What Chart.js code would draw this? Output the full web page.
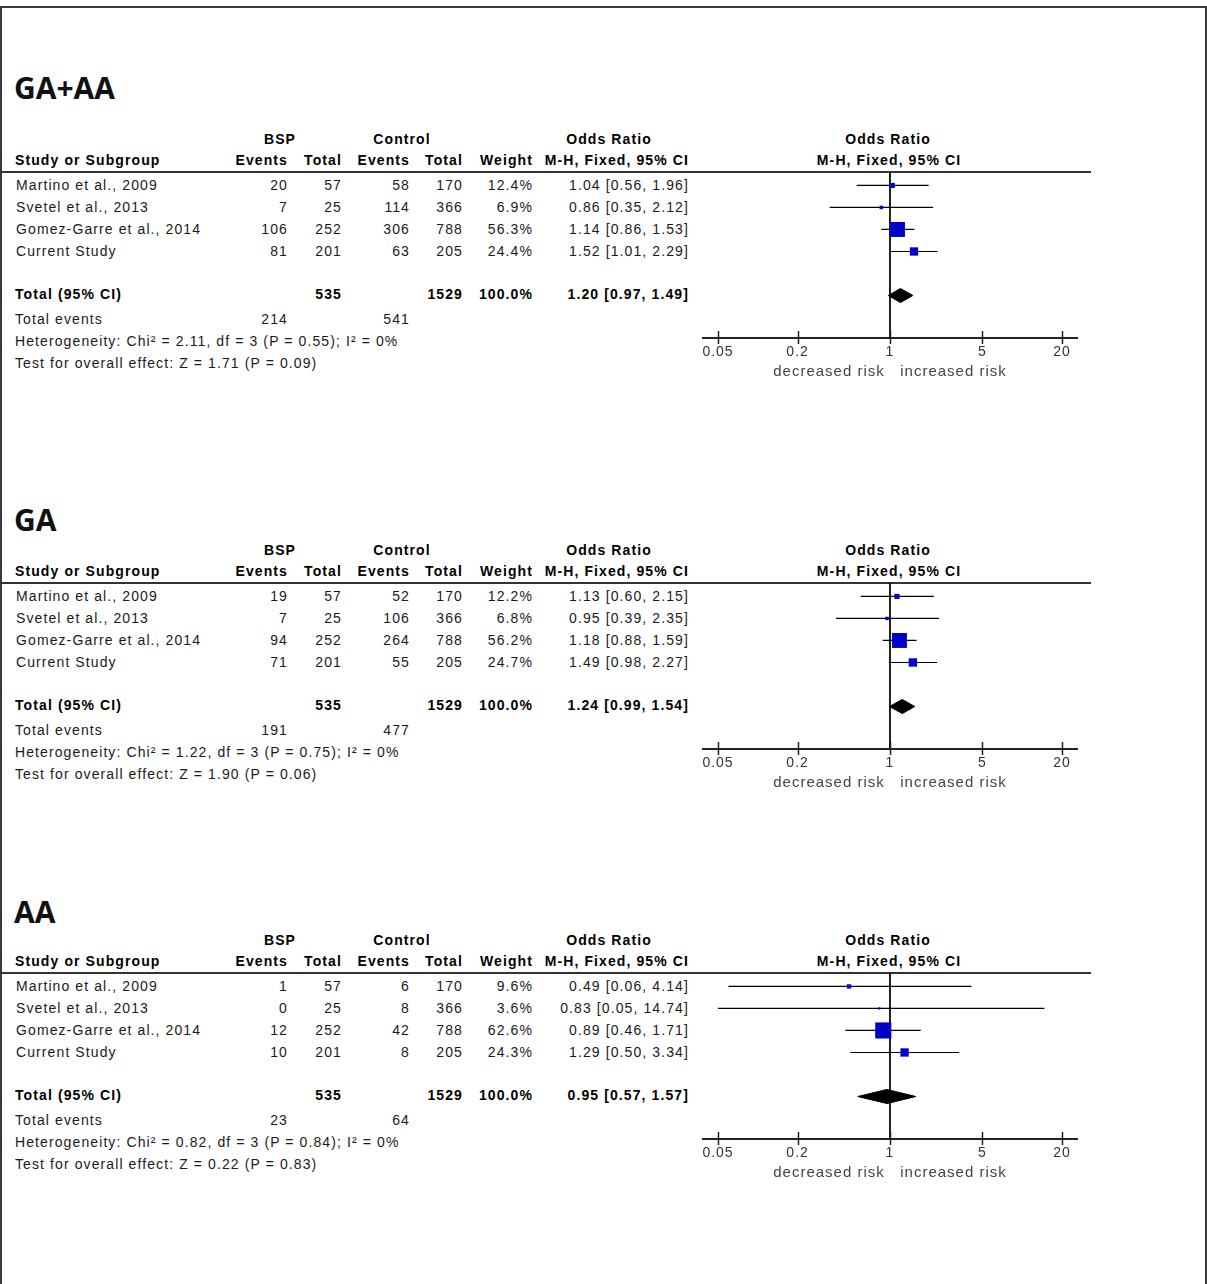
<!DOCTYPE html>
<html>
<head>
<meta charset="utf-8">
<script src="https://cdn.jsdelivr.net/npm/chart.js@4.4.1/dist/chart.umd.min.js"></script>
<style>
  body { margin: 0; background: #fff; }
  #page {
    position: relative; width: 1207px; height: 1284px; overflow: hidden;
    font-family: 'Liberation Sans', Arial, sans-serif; font-size: 14px;
    letter-spacing: 1.1px; color: #1a1a1a;
  }
  #frame {
    position: absolute; left: 0; top: 6px; width: 1207px; height: 1300px;
    box-sizing: border-box; border-top: 2px solid #3a3a3a;
    border-left: 2px solid #3a3a3a; border-right: 2px solid #3a3a3a;
  }
  .t { position: absolute; white-space: nowrap; line-height: 16px; height: 16px; }
  .b { font-weight: bold; color: #000; }
  .title {
    position: absolute; font-family: 'Open Sans', sans-serif; font-weight: 700;
    font-size: 30px; letter-spacing: 0; line-height: 36px; color: #111;
  }
  .hline { position: absolute; left: 0; width: 1091px; height: 2px; background: #333; }
  canvas { position: absolute; }
</style>
</head>
<body>
<div id="page"><div id="frame"></div></div>
<script>
// shared columns
const studies = ["Martino et al., 2009", "Svetel et al., 2013", "Gomez-Garre et al., 2014", "Current Study"];
const bspTotals = [57, 25, 252, 201];
const ctrlTotals = [170, 366, 788, 205];
const axisTicks = [0.05, 0.2, 1, 5, 20];

// GA+AA
const gaaaBspEvents = [20, 7, 106, 81];
const gaaaCtrlEvents = [58, 114, 306, 63];
const gaaaWeights = [12.4, 6.9, 56.3, 24.4];
const gaaaOR = [1.04, 0.86, 1.14, 1.52];
const gaaaLow = [0.56, 0.35, 0.86, 1.01];
const gaaaHigh = [1.96, 2.12, 1.53, 2.29];
const gaaaPooled = [1.20, 0.97, 1.49];
const gaaaTotalEvents = [214, 541];
const gaaaHet = "Chi\u00b2 = 2.11, df = 3 (P = 0.55); I\u00b2 = 0%";
const gaaaZ = "Z = 1.71 (P = 0.09)";

// GA
const gaBspEvents = [19, 7, 94, 71];
const gaCtrlEvents = [52, 106, 264, 55];
const gaWeights = [12.2, 6.8, 56.2, 24.7];
const gaOR = [1.13, 0.95, 1.18, 1.49];
const gaLow = [0.60, 0.39, 0.88, 0.98];
const gaHigh = [2.15, 2.35, 1.59, 2.27];
const gaPooled = [1.24, 0.99, 1.54];
const gaTotalEvents = [191, 477];
const gaHet = "Chi\u00b2 = 1.22, df = 3 (P = 0.75); I\u00b2 = 0%";
const gaZ = "Z = 1.90 (P = 0.06)";

// AA
const aaBspEvents = [1, 0, 12, 10];
const aaCtrlEvents = [6, 8, 42, 8];
const aaWeights = [9.6, 3.6, 62.6, 24.3];
const aaOR = [0.49, 0.83, 0.89, 1.29];
const aaLow = [0.06, 0.05, 0.46, 0.50];
const aaHigh = [4.14, 14.74, 1.71, 3.34];
const aaPooled = [0.95, 0.57, 1.57];
const aaTotalEvents = [23, 64];
const aaHet = "Chi\u00b2 = 0.82, df = 3 (P = 0.84); I\u00b2 = 0%";
const aaZ = "Z = 0.22 (P = 0.83)";

const panels = [
  { name: "GA+AA", base: 172, titleY: 89, bsp: gaaaBspEvents, ctrl: gaaaCtrlEvents, weights: gaaaWeights,
    or: gaaaOR, low: gaaaLow, high: gaaaHigh, pooled: gaaaPooled, events: gaaaTotalEvents, het: gaaaHet, z: gaaaZ },
  { name: "GA", base: 583, titleY: 521, bsp: gaBspEvents, ctrl: gaCtrlEvents, weights: gaWeights,
    or: gaOR, low: gaLow, high: gaHigh, pooled: gaPooled, events: gaTotalEvents, het: gaHet, z: gaZ },
  { name: "AA", base: 973, titleY: 913, bsp: aaBspEvents, ctrl: aaCtrlEvents, weights: aaWeights,
    or: aaOR, low: aaLow, high: aaHigh, pooled: aaPooled, events: aaTotalEvents, het: aaHet, z: aaZ },
];

const page = document.getElementById("page");
const Y_MIN = -0.61, Y_MAX = 6.93, TOTAL_ROW = 5;

function txt(str, x, y, align, cls) {
  const d = document.createElement("div");
  d.className = "t " + (cls || "");
  d.textContent = str;
  d.style.top = (y - 8) + "px";
  if (align == "right") {
    d.style.left = (x - 299) + "px"; d.style.width = "300px"; d.style.textAlign = "right";
  } else if (align == "center") {
    d.style.left = (x - 150) + "px"; d.style.width = "300px"; d.style.textAlign = "center";
  } else {
    d.style.left = x + "px";
  }
  page.appendChild(d);
}

function fmtOR(v, lo, hi) {
  return v.toFixed(2) + " [" + lo.toFixed(2) + ", " + hi.toFixed(2) + "]";
}

function drawTable(p) {
  const b = p.base;
  const t = document.createElement("div");
  t.className = "title";
  t.textContent = p.name;
  t.style.left = "14px";
  t.style.top = (p.titleY - 19) + "px";
  page.appendChild(t);

  txt("BSP", 280, b - 33, "center", "b");
  txt("Control", 402, b - 33, "center", "b");
  txt("Odds Ratio", 609, b - 33, "center", "b");
  txt("Odds Ratio", 888, b - 33, "center", "b");
  txt("Study or Subgroup", 15, b - 12, "left", "b");
  txt("Events", 287, b - 12, "right", "b");
  txt("Total", 341, b - 12, "right", "b");
  txt("Events", 409, b - 12, "right", "b");
  txt("Total", 462, b - 12, "right", "b");
  txt("Weight", 532, b - 12, "right", "b");
  txt("M-H, Fixed, 95% CI", 688, b - 12, "right", "b");
  txt("M-H, Fixed, 95% CI", 889, b - 12, "center", "b");

  const line = document.createElement("div");
  line.className = "hline";
  line.style.top = (b - 1) + "px";
  page.appendChild(line);

  studies.forEach((s, i) => {
    const y = b + (i - Y_MIN) * 22;
    txt(s, 16, y, "left");
    txt(String(p.bsp[i]), 287, y, "right");
    txt(String(bspTotals[i]), 341, y, "right");
    txt(String(p.ctrl[i]), 409, y, "right");
    txt(String(ctrlTotals[i]), 462, y, "right");
    txt(p.weights[i].toFixed(1) + "%", 532, y, "right");
    txt(fmtOR(p.or[i], p.low[i], p.high[i]), 688, y, "right");
  });

  const ty = b + 122;
  txt("Total (95% CI)", 15, ty, "left", "b");
  txt(String(bspTotals.reduce((a, c) => a + c, 0)), 341, ty, "right", "b");
  txt(String(ctrlTotals.reduce((a, c) => a + c, 0)), 462, ty, "right", "b");
  txt("100.0%", 532, ty, "right", "b");
  txt(fmtOR(p.pooled[0], p.pooled[1], p.pooled[2]), 688, ty, "right", "b");

  txt("Total events", 15, b + 147, "left");
  txt(String(p.events[0]), 287, b + 147, "right");
  txt(String(p.events[1]), 409, b + 147, "right");
  txt("Heterogeneity: " + p.het, 15, b + 169, "left");
  txt("Test for overall effect: " + p.z, 15, b + 191, "left");
}

// tick marks crossing the axis line, like RevMan draws them
const crossTicks = {
  id: "crossTicks",
  beforeDraw(chart) {
    chart.ctx.letterSpacing = "1px";
  },
  afterDraw(chart) {
    const sx = chart.scales.x;
    const ctx = chart.ctx;
    const yAxis = chart.chartArea.bottom;
    ctx.save();
    ctx.strokeStyle = "#222";
    ctx.lineWidth = 1.5;
    sx.ticks.forEach((t) => {
      const x = Math.round(sx.getPixelForValue(t.value)) + 0.5;
      ctx.beginPath();
      ctx.moveTo(x, yAxis - 7);
      ctx.lineTo(x, yAxis + 6);
      ctx.stroke();
    });
    ctx.restore();
  },
};

function drawForest(p) {
  const canvas = document.createElement("canvas");
  canvas.width = 400;
  canvas.height = 216;
  canvas.style.left = "690px";
  canvas.style.top = p.base + "px";
  page.appendChild(canvas);

  const squares = p.or.map((v, i) => ({ x: v, y: i }));
  const radii = p.weights.map((w) => Math.max(2, 0.89 * Math.pow(w, 0.7)) / Math.SQRT2);

  const ciLines = p.or.map((v, i) => ({
    type: "line",
    data: [{ x: p.low[i], y: i }, { x: p.high[i], y: i }],
    borderColor: "#000",
    borderWidth: 1.2,
    pointRadius: 0,
  }));

  const [pOR, pLo, pHi] = p.pooled;
  const diamond = {
    type: "line",
    data: [
      { x: pLo, y: TOTAL_ROW }, { x: pOR, y: TOTAL_ROW - 0.32 },
      { x: pHi, y: TOTAL_ROW }, { x: pOR, y: TOTAL_ROW + 0.32 },
      { x: pLo, y: TOTAL_ROW },
    ],
    borderColor: "#000",
    backgroundColor: "#000",
    borderWidth: 1,
    fill: "shape",
    tension: 0,
    pointRadius: 0,
  };

  const noEffect = {
    type: "line",
    data: [{ x: 1, y: Y_MIN }, { x: 1, y: Y_MAX }],
    borderColor: "#000",
    borderWidth: 1,
    pointRadius: 0,
  };

  return new Chart(canvas.getContext("2d"), {
    type: "scatter",
    data: {
      datasets: [
        {
          data: squares,
          pointStyle: "rect",
          pointRadius: radii,
          backgroundColor: "#0000c8",
          pointBackgroundColor: "#0000c8",
          borderWidth: 0,
          pointBorderWidth: 0,
        },
        diamond,
        ...ciLines,
        noEffect,
      ],
    },
    options: {
      responsive: false,
      animation: false,
      devicePixelRatio: 1,
      layout: { autoPadding: false, padding: { left: 13, right: 13, top: 0, bottom: 0 } },
      plugins: { legend: { display: false }, tooltip: { enabled: false } },
      scales: {
        x: {
          type: "logarithmic",
          min: 0.0385,
          max: 26,
          afterBuildTicks: (s) => {
            s.ticks = axisTicks.map((v) => ({ value: v }));
          },
          afterFit: (s) => {
            s.height = 50;
          },
          grid: { display: false, drawTicks: false },
          border: { display: true, color: "#222", width: 2 },
          ticks: {
            padding: 6,
            color: "#333",
            autoSkip: false,
            maxRotation: 0,
            font: { family: "Liberation Sans", size: 14 },
            callback: (v) => String(v),
          },
          title: {
            display: true,
            text: "decreased risk   increased risk",
            color: "#444",
            font: { family: "Liberation Sans", size: 15 },
            padding: { top: 7, bottom: 7 },
          },
        },
        y: { type: "linear", reverse: true, min: Y_MIN, max: Y_MAX, display: false },
      },
    },
    plugins: [crossTicks],
  });
}

panels.forEach((p) => {
  drawTable(p);
  drawForest(p);
});
</script>
</body>
</html>
